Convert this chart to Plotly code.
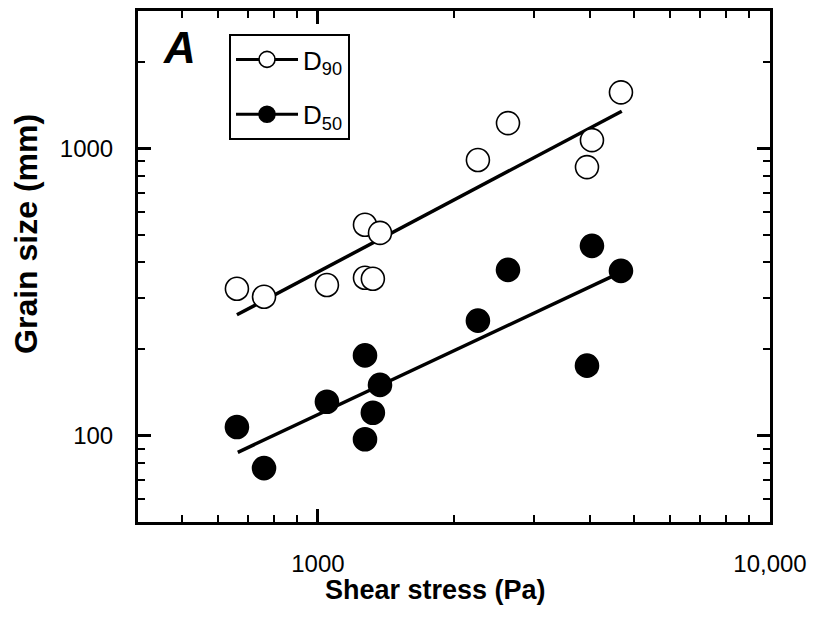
import math
import plotly.graph_objects as go

# ---- data ----
shear_stress = [662, 760, 1047, 1271, 1372, 1271, 1323, 2259, 2633, 3937, 4038, 4681]
d90 = [324, 304, 334, 541, 507, 354, 351, 909, 1222, 859, 1066, 1563]
shear_stress_d50 = [662, 760, 1047, 1271, 1372, 1323, 1271, 2259, 2633, 3937, 4038, 4681]
d50 = [107, 77, 131, 190, 150, 120, 97, 251, 377, 175, 457, 374]

fit_d90_x = [662, 4700]
fit_d90_y = [263, 1344]
fit_d50_x = [665, 4650]
fit_d50_y = [87.4, 368]

x_tick_vals = [1000, 10000]
x_tick_text = ["1000", "10,000"]
y_tick_vals = [100, 1000]
y_tick_text = ["100", "1000"]

FONT = "Liberation Sans, Arial, sans-serif"

fig = go.Figure()

# regression lines
fig.add_trace(go.Scatter(x=fit_d90_x, y=fit_d90_y, mode="lines",
                         line=dict(color="black", width=3.5), showlegend=False))
fig.add_trace(go.Scatter(x=fit_d50_x, y=fit_d50_y, mode="lines",
                         line=dict(color="black", width=3.5), showlegend=False))

# data points
fig.add_trace(go.Scatter(x=shear_stress, y=d90, mode="markers",
                         marker=dict(size=23, color="white", line=dict(color="black", width=1.6)),
                         showlegend=False))
fig.add_trace(go.Scatter(x=shear_stress_d50, y=d50, mode="markers",
                         marker=dict(size=23, color="black", line=dict(color="black", width=1.6)),
                         showlegend=False))

# legend entries
fig.add_trace(go.Scatter(x=[None], y=[None], mode="lines+markers", name="D<sub>90</sub>",
                         legendgroup="a",
                         line=dict(color="black", width=3),
                         marker=dict(size=21, color="white", line=dict(color="black", width=1.6))))
fig.add_trace(go.Scatter(x=[None], y=[None], mode="lines+markers", name="D<sub>50</sub>",
                         legendgroup="b",
                         line=dict(color="black", width=3),
                         marker=dict(size=21, color="black", line=dict(color="black", width=1.6))))

axis_common = dict(
    type="log",
    showline=True, linecolor="black", linewidth=3,
    mirror="allticks",
    ticks="inside", ticklen=13, tickwidth=2.5, tickcolor="black",
    showgrid=False, zeroline=False,
    tickfont=dict(family=FONT, size=24, color="black"),
)

minor_x = [500, 600, 700, 800, 900, 2000, 3000, 4000, 5000, 6000, 7000, 8000, 9000]
minor_y = [60, 70, 80, 90, 200, 300, 400, 500, 600, 700, 800, 900, 2000]

fig.update_xaxes(
    **axis_common,
    range=[math.log10(400), 4],
    tickmode="array", tickvals=x_tick_vals, ticktext=x_tick_text,
    ticklabelstandoff=18,
    minor=dict(ticks="inside", ticklen=7, tickwidth=2, tickcolor="black",
               tickmode="array", tickvals=minor_x, showgrid=False),
)
fig.update_yaxes(
    **axis_common,
    range=[math.log10(50), math.log10(3000)],
    tickmode="array", tickvals=y_tick_vals, ticktext=y_tick_text,
    ticklabelstandoff=17,
    minor=dict(ticks="inside", ticklen=7, tickwidth=2, tickcolor="black",
               tickmode="array", tickvals=minor_y, showgrid=False),
)

fig.update_layout(
    width=812, height=625,
    margin=dict(l=130, r=50, t=0, b=111),
    paper_bgcolor="white", plot_bgcolor="white",
    font=dict(family=FONT, color="black"),
    showlegend=True,
    legend=dict(
        x=0.144, y=0.955, xanchor="left", yanchor="top",
        bordercolor="black", borderwidth=2, bgcolor="white",
        font=dict(family=FONT, size=26, color="black"),
        tracegroupgap=18, itemwidth=62,
    ),
    annotations=[
        dict(text="<b><i>A</i></b>", x=0.066, y=0.928, xref="paper", yref="paper",
             showarrow=False, font=dict(family=FONT, size=44, color="black"),
             xanchor="center", yanchor="middle"),
        dict(text="<b>Shear stress (Pa)</b>", x=0.47, y=-0.134, xref="paper", yref="paper",
             showarrow=False, font=dict(family=FONT, size=27, color="black"),
             xanchor="center", yanchor="middle"),
        dict(text="<b>Grain size (mm)</b>", x=-0.177, y=0.564, xref="paper", yref="paper",
             showarrow=False, textangle=-90, font=dict(family=FONT, size=32, color="black"),
             xanchor="center", yanchor="middle"),
    ],
)

fig.write_html("out.html")
